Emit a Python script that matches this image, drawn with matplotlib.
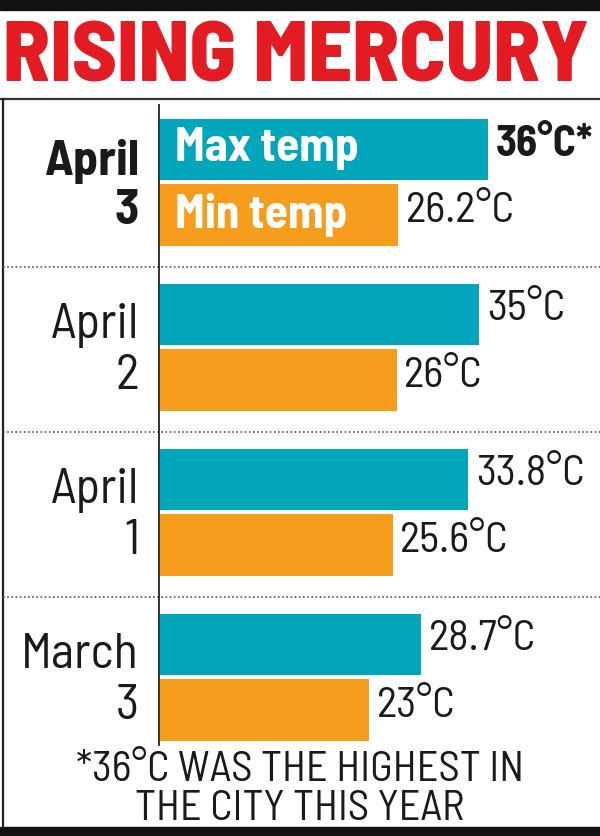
import matplotlib
matplotlib.use("Agg")
import matplotlib.pyplot as plt
from matplotlib.lines import Line2D
from matplotlib.patches import Rectangle

# dados
datas = ["April\n3", "April\n2", "April\n1", "March\n3"]
temp_max = [36, 35, 33.8, 28.7]
temp_min = [26.2, 26, 25.6, 23]
rotulos_max = ["36°C*", "35°C", "33.8°C", "28.7°C"]
rotulos_min = ["26.2°C", "26°C", "25.6°C", "23°C"]
titulo = "RISING MERCURY"
nota = "*36°C WAS THE HIGHEST IN\nTHE CITY THIS YEAR"

TEAL = "#02a6bb"
LARANJA = "#f69d1d"
VERMELHO = "#e31b23"
TEXTO = "#1a1a1a"
FONTE_SEMI = ["Barlow Semi Condensed", "DejaVu Sans"]

W, H = 600, 836
fig = plt.figure(figsize=(6, 8.36), dpi=100)


def fx(px):
    return px / W


def fy(py):
    return 1 - py / H


# faixas pretas e bordas
fig.add_artist(Rectangle((0, fy(10)), 1, 10 / H, transform=fig.transFigure, color="#111111"))
fig.add_artist(Rectangle((0, 0), 1, 9 / H, transform=fig.transFigure, color="#111111"))
fig.add_artist(Line2D([0, 1], [fy(99), fy(99)], transform=fig.transFigure, color="#333333", lw=1.6))
fig.add_artist(Line2D([fx(2.5), fx(2.5)], [fy(99), fy(827)], transform=fig.transFigure, color="#222222", lw=1.6))

# titulo
fig.text(fx(3), fy(81), titulo, color=VERMELHO, fontsize=62, fontweight="heavy",
         family=FONTE_SEMI, ha="left", va="baseline")

# eixo das barras
x0, escala = 160, 9.1
centro0, passo = 182, 165
topo, base = 100, 760
ax = fig.add_axes([fx(x0), fy(base), fx(W - x0), (base - topo) / H])
ax.set_xlim(0, (W - x0) / escala)
ax.set_ylim((base - centro0) / passo, (topo - centro0) / passo)
ax.axis("off")

n = len(datas)
pos = list(range(n))
alt = 0.37
ax.barh([p - 0.195 for p in pos], temp_max, height=alt, color=TEAL)
ax.barh([p + 0.2 for p in pos], temp_min, height=alt, color=LARANJA)

for i in pos:
    negrito = "bold" if i == 0 else "normal"
    ax.text(temp_max[i] + 0.9, i - 0.23, rotulos_max[i], fontsize=31, family=FONTE_SEMI,
            fontweight=negrito, va="center", ha="left", color=TEXTO)
    ax.text(temp_min[i] + 0.8, i + 0.18, rotulos_min[i], fontsize=31, family=FONTE_SEMI,
            va="center", ha="left", color=TEXTO)

ax.text(1.6, -0.2, "Max temp", fontsize=34, family=FONTE_SEMI, fontweight="bold",
        color="white", va="center", ha="left")
ax.text(1.6, 0.2, "Min temp", fontsize=34, family=FONTE_SEMI, fontweight="bold",
        color="white", va="center", ha="left")

# rotulos das datas
for i, d in enumerate(datas):
    negrito = "bold" if i == 0 else "normal"
    fig.text(fx(139), fy(centro0 + passo * i + 4), d, fontsize=36, family=FONTE_SEMI,
             fontweight=negrito, ha="right", va="center", linespacing=1.17, color=TEXTO)

# separadores pontilhados
for i in range(n - 1):
    y = fy(centro0 + passo * (i + 0.5) + 2)
    fig.add_artist(Line2D([fx(3), 1], [y, y], transform=fig.transFigure,
                          color="#555555", lw=1.2, linestyle=(0, (1, 1.5))))

# linha vertical do eixo
fig.add_artist(Line2D([fx(158.5), fx(158.5)], [fy(105), fy(745)], transform=fig.transFigure,
                      color="#222222", lw=1.3))

# nota de rodape
fig.text(fx(300), fy(790), nota, fontsize=30.5, family=FONTE_SEMI, ha="center", va="center",
         linespacing=1.0, color=TEXTO)

fig.savefig("out.png", dpi=100)
